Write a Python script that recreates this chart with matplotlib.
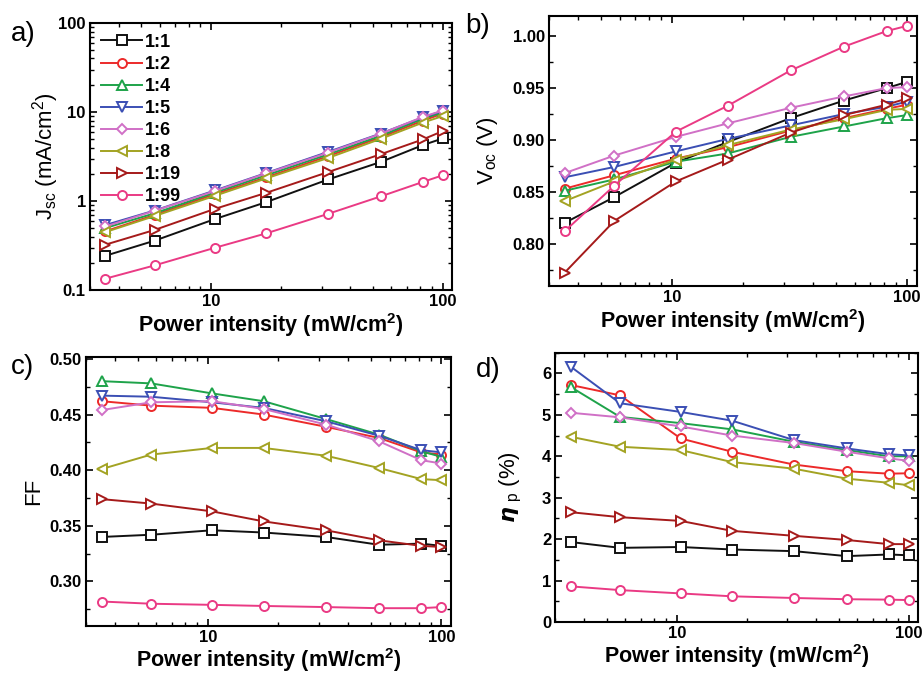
import matplotlib
matplotlib.use("Agg")
import matplotlib.pyplot as plt
from matplotlib.ticker import FixedLocator, NullFormatter, FuncFormatter, LogLocator

plt.rcParams["font.family"] = ["Liberation Sans", "DejaVu Sans"]
plt.rcParams["font.weight"] = "bold"
plt.rcParams["mathtext.default"] = "regular"

power = [3.5, 5.7, 10.4, 17.3, 32, 54, 82, 100]
ratios = ["1:1", "1:2", "1:4", "1:5", "1:6", "1:8", "1:19", "1:99"]
colors = ["#111111", "#ec2a2a", "#1ea34a", "#3b4fb4", "#d070c6", "#a3a323",
          "#a51a1a", "#ea3a84"]
markers = ["s", "o", "^", "v", "D", "<", ">", "o"]

jsc = [
    [0.244, 0.36, 0.63, 0.975, 1.75, 2.75, 4.25, 5.05],
    [0.46, 0.70, 1.20, 1.85, 3.2, 5.2, 8.0, 9.6],
    [0.50, 0.73, 1.25, 1.95, 3.35, 5.4, 8.4, 9.9],
    [0.54, 0.785, 1.32, 2.07, 3.57, 5.74, 8.7, 10.3],
    [0.52, 0.78, 1.30, 2.05, 3.5, 5.7, 8.8, 10.4],
    [0.45, 0.68, 1.15, 1.80, 3.05, 5.0, 7.6, 9.0],
    [0.325, 0.475, 0.82, 1.24, 2.12, 3.36, 4.92, 6.1],
    [0.135, 0.19, 0.30, 0.435, 0.72, 1.13, 1.64, 1.95],
]
voc = [
    [0.820, 0.845, 0.878, 0.898, 0.921, 0.938, 0.950, 0.956],
    [0.853, 0.866, 0.882, 0.893, 0.909, 0.921, 0.930, 0.934],
    [0.851, 0.862, 0.879, 0.887, 0.903, 0.913, 0.921, 0.924],
    [0.864, 0.874, 0.889, 0.901, 0.914, 0.925, 0.932, 0.937],
    [0.868, 0.885, 0.903, 0.916, 0.931, 0.942, 0.950, 0.951],
    [0.841, 0.860, 0.881, 0.895, 0.910, 0.920, 0.929, 0.930],
    [0.772, 0.822, 0.860, 0.881, 0.907, 0.924, 0.934, 0.940],
    [0.812, 0.856, 0.908, 0.933, 0.967, 0.990, 1.005, 1.010],
]
ff = [
    [0.340, 0.342, 0.346, 0.344, 0.340, 0.333, 0.334, 0.332],
    [0.462, 0.458, 0.456, 0.450, 0.439, 0.429, 0.416, 0.414],
    [0.480, 0.478, 0.469, 0.462, 0.446, 0.432, 0.417, 0.412],
    [0.467, 0.466, 0.461, 0.456, 0.444, 0.431, 0.418, 0.416],
    [0.454, 0.461, 0.462, 0.455, 0.441, 0.426, 0.409, 0.406],
    [0.401, 0.414, 0.420, 0.420, 0.413, 0.402, 0.392, 0.391],
    [0.374, 0.370, 0.363, 0.354, 0.346, 0.337, 0.332, 0.331],
    [0.282, 0.280, 0.279, 0.278, 0.277, 0.276, 0.276, 0.277],
]
eta = [
    [1.93, 1.79, 1.81, 1.75, 1.71, 1.59, 1.63, 1.61],
    [5.72, 5.47, 4.43, 4.11, 3.80, 3.64, 3.58, 3.59],
    [5.67, 4.95, 4.80, 4.65, 4.35, 4.15, 4.00, 4.00],
    [6.16, 5.28, 5.07, 4.86, 4.39, 4.19, 4.05, 4.02],
    [5.05, 4.94, 4.72, 4.50, 4.32, 4.11, 3.95, 3.89],
    [4.47, 4.23, 4.15, 3.86, 3.70, 3.46, 3.36, 3.30],
    [2.65, 2.53, 2.44, 2.20, 2.08, 1.98, 1.88, 1.88],
    [0.86, 0.77, 0.69, 0.62, 0.58, 0.55, 0.54, 0.53],
]

fig = plt.figure(figsize=(9.24, 6.75), dpi=100)
ax_a = fig.add_axes([0.0974, 0.570, 0.392, 0.396])
ax_b = fig.add_axes([0.594, 0.576, 0.398, 0.401])
ax_c = fig.add_axes([0.0931, 0.0726, 0.395, 0.399])
ax_d = fig.add_axes([0.601, 0.0785, 0.393, 0.399])

# (axes, data, tag, tag x, tag y, ylabel x, ylabel y)
panels = [(ax_a, jsc, "a)", -0.185, 0.96, -0.08, 0.53),
          (ax_b, voc, "b)", -0.193, 0.96, -0.133, 0.47),
          (ax_c, ff, "c)", -0.175, 0.96, -0.115, 0.52),
          (ax_d, eta, "d)", -0.185, 0.937, -0.085, 0.5)]

for ax, data, tag, tx, ty, lx, ly in panels:
    for vals, lab, col, mk in zip(data, ratios, colors, markers):
        ms = 5.5 if mk == "D" else 6.5
        ax.plot(power, vals, color=col, marker=mk, markersize=ms,
                markerfacecolor="white", markeredgecolor=col,
                markeredgewidth=1.4, linewidth=1.4, label=lab)
    ax.set_xscale("log")
    ax.set_xlim(3, 110)
    ax.xaxis.set_major_locator(FixedLocator([10, 100]))
    ax.xaxis.set_major_formatter(FuncFormatter(lambda v, p: "%d" % v))
    ax.xaxis.set_minor_locator(LogLocator(base=10, subs=range(2, 10)))
    ax.xaxis.set_minor_formatter(NullFormatter())
    ax.tick_params(which="both", direction="in", top=True, right=True)
    ax.tick_params(which="major", length=5, width=1.2, labelsize=12, pad=3)
    ax.tick_params(which="minor", length=3, width=1.0)
    for sp in ax.spines.values():
        sp.set_linewidth(1.5)
    ax.set_xlabel("Power intensity (mW/cm$^2$)", fontsize=15.5,
                  fontweight="bold", labelpad=1)
    ax.yaxis.set_label_coords(lx, ly)
    ax.text(tx, ty, tag, transform=ax.transAxes, fontsize=20,
            fontweight="normal", ha="center", va="center")

ax_a.set_yscale("log")
ax_a.set_ylim(0.1, 100)
ax_a.yaxis.set_major_locator(FixedLocator([0.1, 1, 10, 100]))
ax_a.yaxis.set_major_formatter(FuncFormatter(lambda v, p: "%g" % v))
ax_a.yaxis.set_minor_locator(LogLocator(base=10, subs=range(2, 10)))
ax_a.yaxis.set_minor_formatter(NullFormatter())
ax_a.set_ylabel("J$_{sc}$ (mA/cm$^2$)", fontsize=16)
ax_a.legend(loc="upper left", frameon=False, fontsize=13,
            handlelength=2.3, labelspacing=0.28, borderaxespad=0.2,
            handletextpad=0.15)

ax_b.set_ylim(0.759, 1.02)
ax_b.yaxis.set_major_locator(FixedLocator([0.80, 0.85, 0.90, 0.95, 1.00]))
ax_b.yaxis.set_major_formatter(FuncFormatter(lambda v, p: "%.2f" % v))
ax_b.yaxis.set_minor_locator(FixedLocator([0.775, 0.825, 0.875, 0.925, 0.975]))
ax_b.set_ylabel("V$_{oc}$ (V)", fontsize=16)

ax_c.set_ylim(0.26, 0.502)
ax_c.yaxis.set_major_locator(FixedLocator([0.30, 0.35, 0.40, 0.45, 0.50]))
ax_c.yaxis.set_major_formatter(FuncFormatter(lambda v, p: "%.2f" % v))
ax_c.yaxis.set_minor_locator(FixedLocator([0.275, 0.325, 0.375, 0.425, 0.475]))
ax_c.set_ylabel("FF", fontsize=16)

ax_d.set_ylim(0, 6.5)
ax_d.yaxis.set_major_locator(FixedLocator([0, 1, 2, 3, 4, 5, 6]))
ax_d.yaxis.set_major_formatter(FuncFormatter(lambda v, p: "%d" % v))
ax_d.yaxis.set_minor_locator(FixedLocator([0.5, 1.5, 2.5, 3.5, 4.5, 5.5, 6.5]))
ax_d.set_ylabel("$\\mathit{\\eta}_{\\ p}$ (%)", fontsize=16)

fig.savefig("out.png", dpi=100)
